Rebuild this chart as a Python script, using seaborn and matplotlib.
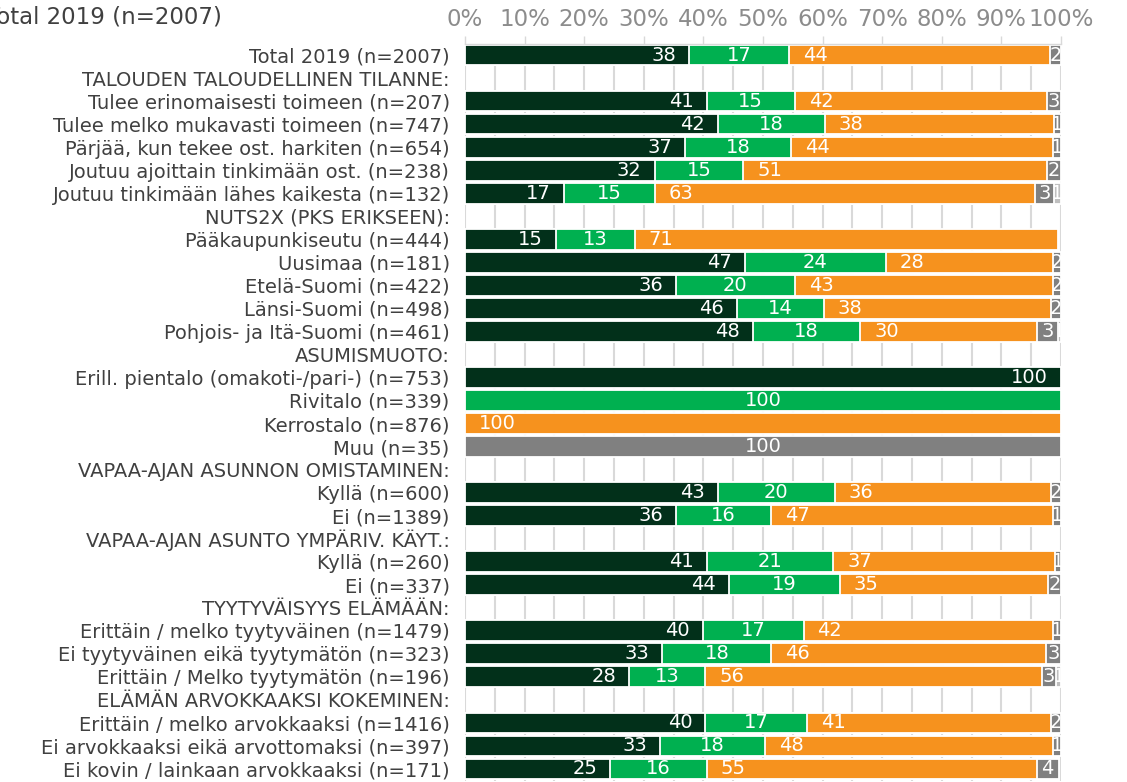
import numpy as np
import pandas as pd
import matplotlib
matplotlib.use("Agg")
import matplotlib.pyplot as plt
import seaborn as sns
from matplotlib.patches import Rectangle

rows = [
    "Total 2019 (n=2007)",
    "TALOUDEN TALOUDELLINEN TILANNE:",
    "Tulee erinomaisesti toimeen (n=207)",
    "Tulee melko mukavasti toimeen (n=747)",
    "Pärjää, kun tekee ost. harkiten (n=654)",
    "Joutuu ajoittain tinkimään ost. (n=238)",
    "Joutuu tinkimään lähes kaikesta (n=132)",
    "NUTS2X (PKS ERIKSEEN):",
    "Pääkaupunkiseutu (n=444)",
    "Uusimaa (n=181)",
    "Etelä-Suomi (n=422)",
    "Länsi-Suomi (n=498)",
    "Pohjois- ja Itä-Suomi (n=461)",
    "ASUMISMUOTO:",
    "Erill. pientalo (omakoti-/pari-) (n=753)",
    "Rivitalo (n=339)",
    "Kerrostalo (n=876)",
    "Muu (n=35)",
    "VAPAA-AJAN ASUNNON OMISTAMINEN:",
    "Kyllä (n=600)",
    "Ei (n=1389)",
    "VAPAA-AJAN ASUNTO YMPÄRIV. KÄYT.:",
    "Kyllä (n=260)",
    "Ei (n=337)",
    "TYYTYVÄISYYS ELÄMÄÄN:",
    "Erittäin / melko tyytyväinen (n=1479)",
    "Ei tyytyväinen eikä tyytymätön (n=323)",
    "Erittäin / Melko tyytymätön (n=196)",
    "ELÄMÄN ARVOKKAAKSI KOKEMINEN:",
    "Erittäin / melko arvokkaaksi (n=1416)",
    "Ei arvokkaaksi eikä arvottomaksi (n=397)",
    "Ei kovin / lainkaan arvokkaaksi (n=171)",
]
_ = None

# segment values (% share)
s1 = [37.6, _, 40.6, 42.4, 36.9, 31.8, 16.6, _, 15.3, 46.9, 35.4, 45.6, 48.3, _, 100, 0, 0, 0, _,
      42.4, 35.4, _, 40.6, 44.3, _, 39.9, 33.1, 27.5, _, 40.3, 32.7, 24.4]
s2 = [16.8, _, 14.7, 18.0, 17.8, 14.9, 15.2, _, 13.2, 23.7, 19.9, 14.6, 18.0, _, 0, 100, 0, 0, _,
      19.6, 16.0, _, 21.2, 18.6, _, 16.9, 18.3, 12.8, _, 17.1, 17.7, 16.2]
s3 = [43.8, _, 42.4, 38.4, 43.9, 51.0, 63.8, _, 71.0, 28.1, 43.4, 38.2, 29.6, _, 0, 0, 100, 0, _,
      36.4, 47.3, _, 37.2, 35.0, _, 41.9, 46.0, 56.5, _, 41.0, 48.3, 55.3]
s4 = [1.8, _, 2.3, 1.2, 1.4, 2.3, 3.2, _, 0, 1.3, 1.3, 1.6, 3.6, _, 0, 0, 0, 100, _,
      1.6, 1.3, _, 1.0, 2.1, _, 1.3, 2.6, 2.4, _, 1.6, 1.3, 3.7]
s5 = [0, _, 0, 0, 0, 0, 1.2, _, 0, 0, 0, 0, 0.5, _, 0, 0, 0, 0, _,
      0, 0, _, 0, 0, _, 0, 0, 0.8, _, 0, 0, 0]

# printed labels
l1 = [38, _, 41, 42, 37, 32, 17, _, 15, 47, 36, 46, 48, _, 100, 0, 0, 0, _, 43, 36, _, 41, 44, _, 40, 33, 28, _, 40, 33, 25]
l2 = [17, _, 15, 18, 18, 15, 15, _, 13, 24, 20, 14, 18, _, 0, 100, 0, 0, _, 20, 16, _, 21, 19, _, 17, 18, 13, _, 17, 18, 16]
l3 = [44, _, 42, 38, 44, 51, 63, _, 71, 28, 43, 38, 30, _, 0, 0, 100, 0, _, 36, 47, _, 37, 35, _, 42, 46, 56, _, 41, 48, 55]
l4 = [2, _, 3, 1, 1, 2, 3, _, 0, 2, 2, 2, 3, _, 0, 0, 0, 100, _, 2, 1, _, 1, 2, _, 1, 3, 3, _, 2, 1, 4]
l5 = [0, _, 0, 0, 0, 0, 1, _, 0, 0, 0, 0, 1, _, 0, 0, 0, 0, _, 0, 0, _, 0, 0, _, 0, 0, 1, _, 0, 0, 0]

colors = ["#02301a", "#00b050", "#f6921e", "#808080", "#bfbfbf"]
label_modes = ["right", "center", "left", "center", "center"]
xticks = [0, 10, 20, 30, 40, 50, 60, 70, 80, 90, 100]

sns.set_style("white")
plt.rcParams["font.family"] = ["DejaVu Sans"]

fig = plt.figure(figsize=(11.27, 7.82), dpi=100)
ax = fig.add_axes([465 / 1127, 1.5 / 782, 596 / 1127, 737 / 782])

n = len(rows)
series = [s1, s2, s3, s4, s5]
labels = [l1, l2, l3, l4, l5]
cum = np.zeros(n)
segs = []
for vals in series:
    v = np.array([np.nan if x is None else x for x in vals], float)
    start = cum.copy()
    cum = cum + np.nan_to_num(v)
    segs.append((start, cum.copy(), v))

BW = 0.9
for i in reversed(range(len(series))):
    start, end, v = segs[i]
    mask = ~np.isnan(v) & (v > 0)
    df = pd.DataFrame({"row": np.array(rows)[mask], "end": end[mask]})
    sns.barplot(data=df, x="end", y="row", order=rows, color=colors[i], orient="h",
                width=BW, edgecolor="white", linewidth=1.3, errorbar=None,
                saturation=1, ax=ax, zorder=2)

for i in range(len(series)):
    start, end, v = segs[i]
    for j in range(n):
        lab = labels[i][j]
        if lab is None or lab == 0:
            continue
        x0, x1 = start[j], end[j]
        mode = label_modes[i]
        if mode == "right":
            x, dx, ha = x1, -13, "right"
        elif mode == "left":
            x, dx, ha = x0, 14, "left"
        else:
            x, dx, ha = (x0 + x1) / 2, 0, "center"
        t = ax.annotate(str(lab), xy=(x, j), xytext=(dx, 0), textcoords="offset pixels",
                        ha=ha, va="center", color="white", fontsize=14, zorder=5,
                        annotation_clip=False)
        clip = Rectangle((x0, j - BW / 2), x1 - x0, BW, transform=ax.transData)
        t.set_clip_path(clip)
        t.set_clip_on(True)

ax.set_xlim(0, 100)
ax.set_ylim(n - 0.5, -0.5)
ax.xaxis.tick_top()
ax.set_xticks(xticks)
ax.set_xticks(np.arange(0, 101, 5), minor=True)
ax.set_xticklabels([f"{t}%" for t in xticks])
ax.grid(False)
ax.grid(axis="x", which="both", color="#d9d9d9", linewidth=1.5)
ax.set_axisbelow(True)
ax.tick_params(axis="x", which="major", top=True, bottom=False, length=6, width=1,
               color="#d9d9d9", labelsize=16.5, labelcolor="#8c8c8c", pad=3)
ax.tick_params(axis="x", which="minor", length=0)
ax.tick_params(axis="y", length=0, labelsize=14, labelcolor="#404040", pad=11)
for s in ["left", "right", "bottom"]:
    ax.spines[s].set_visible(False)
ax.spines["top"].set_color("#d9d9d9")
ax.spines["top"].set_linewidth(1)
ax.set_xlabel("")
ax.set_ylabel("")

fig.text(-14 / 1127, 1 - 5 / 782, "Total 2019 (n=2007)", ha="left", va="top",
         fontsize=16.5, color="#404040")

fig.savefig("out.png", dpi=100)
